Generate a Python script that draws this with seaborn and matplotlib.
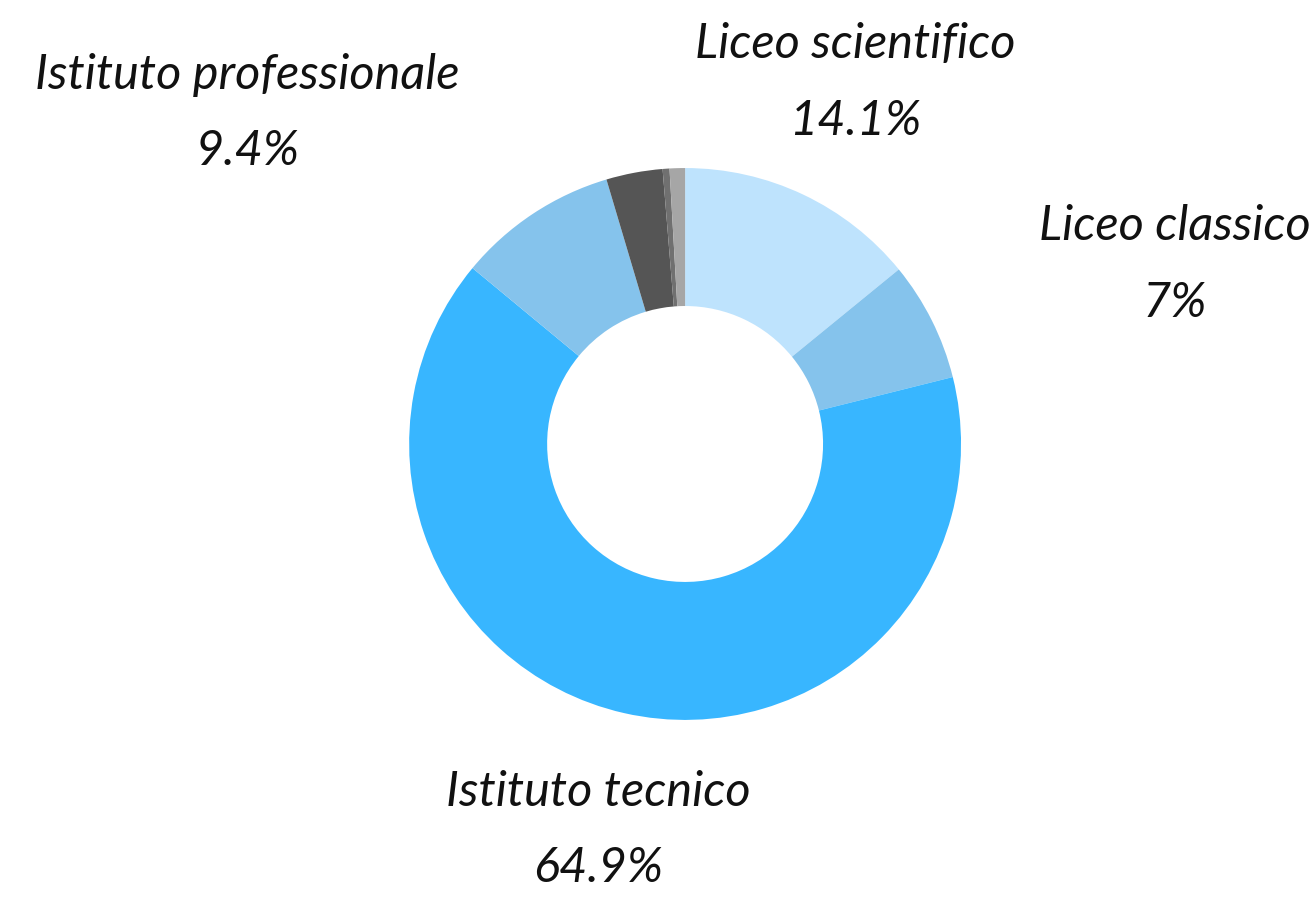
import matplotlib
matplotlib.use("Agg")
import matplotlib.pyplot as plt
import seaborn as sns

# share of students by type of school (clockwise from the top)
categories = ["Liceo scientifico", "Liceo classico", "Istituto tecnico",
              "Istituto professionale", "Altro", "Altro 2", "Altro 3"]
shares = [14.1, 7.0, 64.9, 9.4, 3.3, 0.4, 0.9]
labelled = ["Liceo scientifico", "Liceo classico", "Istituto tecnico", "Istituto professionale"]
colors = ["#bee3fd", "#85c3ec", "#38b6ff", "#85c3ec", "#555555", "#707070", "#a6a6a6"]

# label block centres, in units of the outer radius
label_pos = {
    "Liceo scientifico": (0.616, 1.31),
    "Liceo classico": (1.775, 0.65),
    "Istituto tecnico": (-0.315, -1.40),
    "Istituto professionale": (-1.587, 1.20),
}

sns.set_theme(style="white")
plt.rcParams["font.family"] = ["Lato", "DejaVu Sans"]

fig = plt.figure(figsize=(13.15, 8.99), dpi=100)
ax = fig.add_axes([0, 0, 1, 1])
ax.pie(shares, colors=colors, startangle=90, counterclock=False, radius=1.0,
       wedgeprops=dict(width=0.5, linewidth=0))

for name, val in zip(categories, shares):
    if name in labelled:
        x, y = label_pos[name]
        ax.text(x, y, f"{name}\n{val:g}%", ha="center", va="center",
                fontsize=35, style="italic", color="#111111", linespacing=1.9)

ax.set_xlim(-2.482, 2.282)
ax.set_ylim(-1.649, 1.609)
ax.set_aspect("equal")
ax.axis("off")
fig.savefig("out.png", dpi=100)
